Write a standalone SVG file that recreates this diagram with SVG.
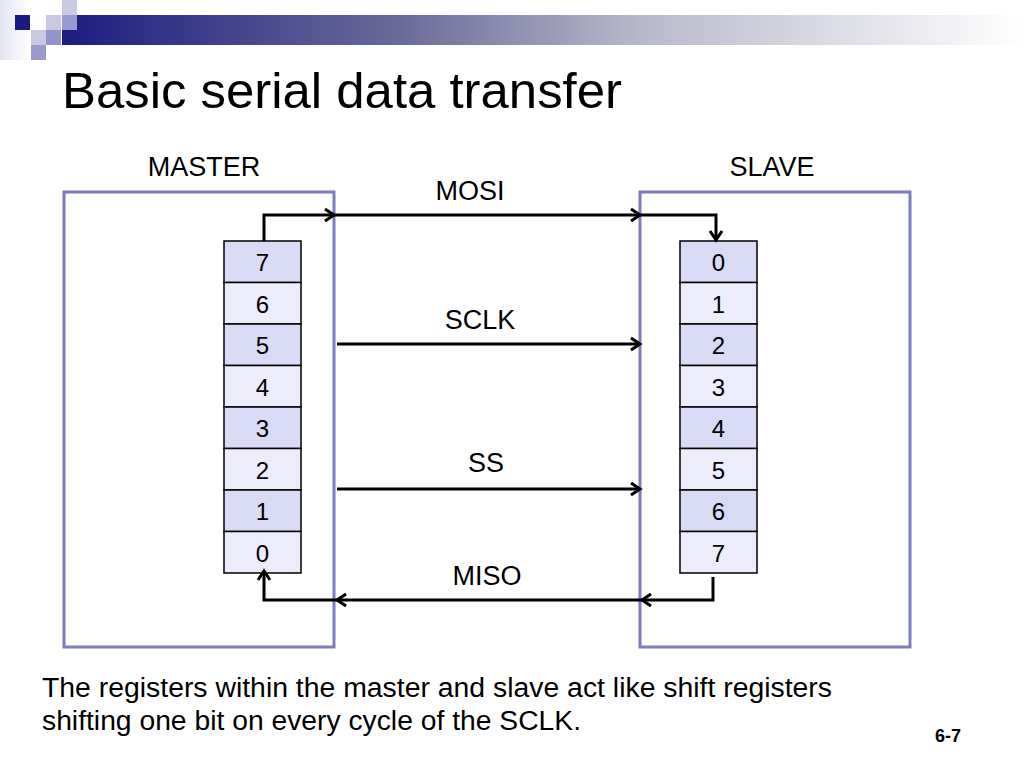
<svg xmlns="http://www.w3.org/2000/svg" width="1024" height="768" viewBox="0 0 1024 768">
<defs>
<linearGradient id="bar" x1="0" y1="0" x2="1" y2="0">
<stop offset="0" stop-color="#1c1c82"/>
<stop offset="0.35" stop-color="#6a6a98"/>
<stop offset="0.6" stop-color="#b8b8cc"/>
<stop offset="1" stop-color="#ffffff"/>
</linearGradient>
<linearGradient id="strip" x1="0" y1="0" x2="1" y2="0">
<stop offset="0" stop-color="#e4e4f2"/>
<stop offset="1" stop-color="#ffffff"/>
</linearGradient>
<marker id="arr" markerUnits="userSpaceOnUse" markerWidth="16" markerHeight="16" viewBox="0 0 16 16" refX="13" refY="8" orient="auto">
<path d="M4,2 L13,8 L4,14" fill="none" stroke="#000" stroke-width="3"/>
</marker>
<style>
.t{font-family:"Liberation Sans",Arial,sans-serif;fill:#000}
.box{fill:none;stroke:#7c7cc2;stroke-width:3}
.cd{fill:#d8daf6;stroke:#000;stroke-width:1.5}
.cl{fill:#ececfb;stroke:#000;stroke-width:1.5}
.dg{font-family:"Liberation Sans",Arial,sans-serif;font-size:24px;text-anchor:middle}
.lbl{font-family:"Liberation Sans",Arial,sans-serif;font-size:27px;text-anchor:middle}
.c{fill:none;stroke:#000;stroke-width:3}
</style>
</defs>
<rect width="1024" height="768" fill="#fff"/>
<g id="header">
<rect x="0" y="0" width="30" height="60" fill="url(#strip)"/>
<rect x="62" y="15" width="962" height="30" fill="url(#bar)"/>
<rect x="15" y="15" width="15" height="15" fill="#1a1a80"/>
<rect x="46" y="15" width="15" height="15" fill="#c9c9e6"/>
<rect x="62" y="0" width="15" height="15" fill="#c9c9e6"/>
<rect x="62" y="15" width="15" height="15" fill="#9a9ad0"/>
<rect x="31" y="30" width="15" height="15" fill="#c9c9e6"/>
<rect x="46" y="30" width="15" height="15" fill="#9494cc"/>
<rect x="31" y="45" width="15" height="15" fill="#9a9acc"/>
</g>
<text class="t" x="62" y="108" font-size="50" textLength="560" lengthAdjust="spacingAndGlyphs">Basic serial data transfer</text>
<g id="master">
<rect class="box" x="64" y="192" width="270" height="455"/>
<text class="lbl" x="204" y="176">MASTER</text>
</g>
<g id="master-register">
<rect class="cd" x="224" y="241" width="77" height="41.5"/>
<rect class="cl" x="224" y="282.5" width="77" height="41.5"/>
<rect class="cd" x="224" y="324" width="77" height="41.5"/>
<rect class="cl" x="224" y="365.5" width="77" height="41.5"/>
<rect class="cd" x="224" y="407" width="77" height="41.5"/>
<rect class="cl" x="224" y="448.5" width="77" height="41.5"/>
<rect class="cd" x="224" y="490" width="77" height="41.5"/>
<rect class="cl" x="224" y="531.5" width="77" height="41.5"/>
<text class="dg" x="262.5" y="271">7</text>
<text class="dg" x="262.5" y="312.5">6</text>
<text class="dg" x="262.5" y="354">5</text>
<text class="dg" x="262.5" y="395.5">4</text>
<text class="dg" x="262.5" y="437">3</text>
<text class="dg" x="262.5" y="478.5">2</text>
<text class="dg" x="262.5" y="520">1</text>
<text class="dg" x="262.5" y="561.5">0</text>
</g>
<g id="slave">
<rect class="box" x="640" y="192" width="270" height="455"/>
<text class="lbl" x="772" y="176">SLAVE</text>
</g>
<g id="slave-register">
<rect class="cd" x="680" y="241" width="77" height="41.5"/>
<rect class="cl" x="680" y="282.5" width="77" height="41.5"/>
<rect class="cd" x="680" y="324" width="77" height="41.5"/>
<rect class="cl" x="680" y="365.5" width="77" height="41.5"/>
<rect class="cd" x="680" y="407" width="77" height="41.5"/>
<rect class="cl" x="680" y="448.5" width="77" height="41.5"/>
<rect class="cd" x="680" y="490" width="77" height="41.5"/>
<rect class="cl" x="680" y="531.5" width="77" height="41.5"/>
<text class="dg" x="718.5" y="271">0</text>
<text class="dg" x="718.5" y="312.5">1</text>
<text class="dg" x="718.5" y="354">2</text>
<text class="dg" x="718.5" y="395.5">3</text>
<text class="dg" x="718.5" y="437">4</text>
<text class="dg" x="718.5" y="478.5">5</text>
<text class="dg" x="718.5" y="520">6</text>
<text class="dg" x="718.5" y="561.5">7</text>
</g>
<g id="connectors">
<polyline class="c" points="264,241 264,215 334,215" marker-end="url(#arr)"/>
<line class="c" x1="334" y1="215" x2="640" y2="215" marker-end="url(#arr)"/>
<polyline class="c" points="640,215 716,215 716,240" marker-end="url(#arr)"/>
<line class="c" x1="337" y1="344" x2="640" y2="344" marker-end="url(#arr)"/>
<line class="c" x1="337" y1="489" x2="640" y2="489" marker-end="url(#arr)"/>
<polyline class="c" points="713,577 713,600 642,600" marker-end="url(#arr)"/>
<line class="c" x1="642" y1="600" x2="337" y2="600" marker-end="url(#arr)"/>
<polyline class="c" points="337,600 264,600 264,571" marker-end="url(#arr)"/>
<text class="lbl" x="470" y="200">MOSI</text>
<text class="lbl" x="480" y="329">SCLK</text>
<text class="lbl" x="486" y="472">SS</text>
<text class="lbl" x="487" y="585">MISO</text>
</g>
<text class="t" x="42" y="697" font-size="27" textLength="790" lengthAdjust="spacingAndGlyphs">The registers within the master and slave act like shift registers</text>
<text class="t" x="42" y="730" font-size="27" textLength="539" lengthAdjust="spacingAndGlyphs">shifting one bit on every cycle of the SCLK.</text>
<text class="t" x="935" y="742" font-size="18" font-weight="bold">6-7</text>
</svg>
